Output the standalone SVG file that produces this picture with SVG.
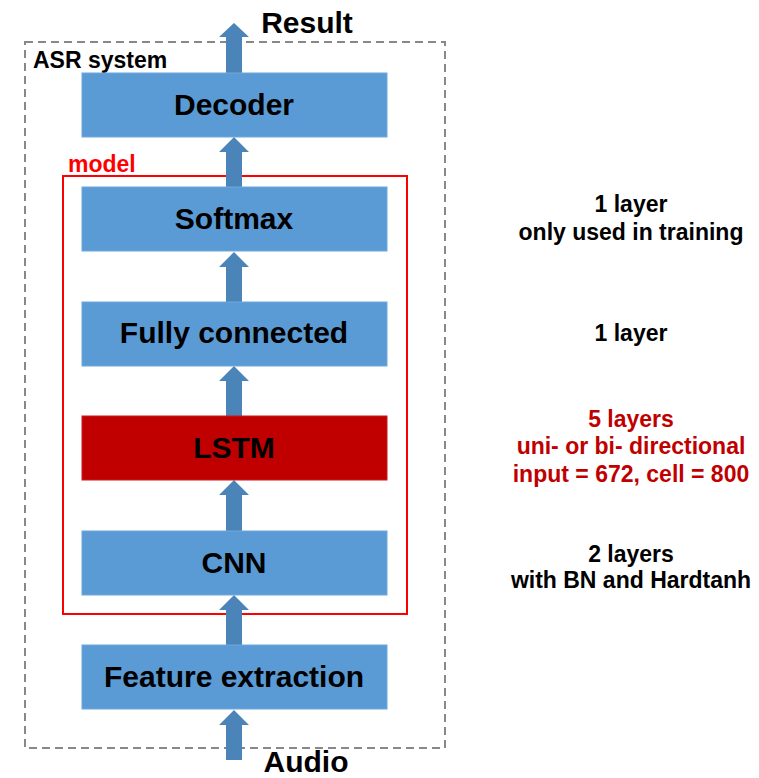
<svg xmlns="http://www.w3.org/2000/svg" width="759" height="778" viewBox="0 0 759 778">
<style>
.box{fill:#5b9bd5;stroke:#6fa8dc;stroke-width:1}
.lstm{fill:#c00000;stroke:#c81a1a;stroke-width:1}
.bt{font-family:"Liberation Sans",Arial,sans-serif;font-weight:bold;font-size:30px;fill:#000;text-anchor:middle}
.note{font-family:"Liberation Sans",Arial,sans-serif;font-weight:bold;font-size:23px;fill:#000;text-anchor:middle}
.red{fill:#c00000}
.arr{fill:#4a84b8}
</style>
<rect x="25" y="42" width="420" height="706" fill="none" stroke="#888" stroke-width="2" stroke-dasharray="8 5"/>
<text x="33" y="68" font-family="Liberation Sans,Arial,sans-serif" font-weight="bold" font-size="23" fill="#000">ASR system</text>
<g id="model">
<rect x="63" y="176" width="344" height="438" fill="none" stroke="#ff0000" stroke-width="2"/>
<text x="68" y="172" font-family="Liberation Sans,Arial,sans-serif" font-weight="bold" font-size="23" fill="#ff0000">model</text>
</g>
<g id="connectors">
<polygon class="arr" points="234,710 249,725 242,725 242,760 226,760 226,725 219,725"/>
<polygon class="arr" points="234,595 249,610 242,610 242,645 226,645 226,610 219,610"/>
<polygon class="arr" points="234,480 249,495 242,495 242,531 226,531 226,495 219,495"/>
<polygon class="arr" points="234,366 249,381 242,381 242,416 226,416 226,381 219,381"/>
<polygon class="arr" points="234,252 249,267 242,267 242,302 226,302 226,267 219,267"/>
<polygon class="arr" points="234,137 249,152 242,152 242,187 226,187 226,152 219,152"/>
<polygon class="arr" points="234,23 249,37 242,37 242,73 226,73 226,37 219,37"/>
</g>
<g id="decoder"><rect class="box" x="82" y="73" width="305" height="64"/><text class="bt" x="234" y="115">Decoder</text></g>
<g id="softmax"><rect class="box" x="82" y="187" width="305" height="64"/><text class="bt" x="234" y="229">Softmax</text></g>
<g id="fc"><rect class="box" x="82" y="302" width="305" height="64"/><text class="bt" x="234" y="343">Fully connected</text></g>
<g id="lstm"><rect class="lstm" x="82" y="416" width="305" height="64"/><text class="bt" x="234" y="458">LSTM</text></g>
<g id="cnn"><rect class="box" x="82" y="531" width="305" height="64"/><text class="bt" x="234" y="573">CNN</text></g>
<g id="fe"><rect class="box" x="82" y="645" width="305" height="64"/><text class="bt" x="234" y="687">Feature extraction</text></g>
<g id="result"><text class="bt" x="307" y="33">Result</text></g>
<g id="audio"><text class="bt" x="306" y="772">Audio</text></g>
<g id="notes">
<text class="note" x="631" y="212">1 layer</text>
<text class="note" x="631" y="240">only used in training</text>
<text class="note" x="631" y="341">1 layer</text>
<text class="note red" x="631" y="427">5 layers</text>
<text class="note red" x="631" y="454">uni- or bi- directional</text>
<text class="note red" x="631" y="482">input = 672, cell = 800</text>
<text class="note" x="631" y="562">2 layers</text>
<text class="note" x="631" y="588">with BN and Hardtanh</text>
</g>
</svg>
